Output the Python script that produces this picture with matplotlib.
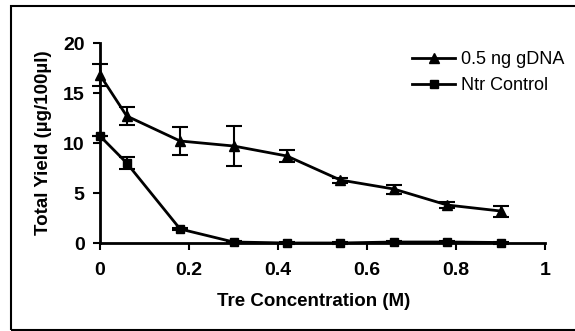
import matplotlib
matplotlib.use("Agg")
import matplotlib.pyplot as plt
from matplotlib.patches import Rectangle
from matplotlib.lines import Line2D

x = [0, 0.06, 0.18, 0.30, 0.42, 0.54, 0.66, 0.78, 0.90]
gdna = [16.8, 12.7, 10.2, 9.7, 8.7, 6.3, 5.4, 3.8, 3.2]
gdna_err = [1.1, 0.9, 1.4, 2.0, 0.6, 0.25, 0.45, 0.3, 0.55]
ntr = [10.7, 8.0, 1.4, 0.1, 0.0, 0.0, 0.1, 0.1, 0.05]
ntr_err = [0.0, 0.6, 0.1, 0.1, 0.1, 0.1, 0.1, 0.1, 0.1]
xticks = [0, 0.2, 0.4, 0.6, 0.8, 1]
xticklabels = ["0", "0.2", "0.4", "0.6", "0.8", "1"]
yticks = [0, 5, 10, 15, 20]
labels = ['0.5 ng gDNA', 'Ntr Control']

plt.rcParams['font.family'] = ['Liberation Sans', 'DejaVu Sans']

fig = plt.figure(figsize=(5.75, 3.31), dpi=100)
W, H = 575, 331
ax = fig.add_axes([100 / W, (H - 243) / H, 445 / W, 200 / H])

ax.errorbar(x, gdna, yerr=gdna_err, color='black', marker='^', markersize=7,
            linewidth=2, elinewidth=1.5, capsize=6, capthick=1.5,
            clip_on=False, zorder=3)
ax.errorbar(x, ntr, yerr=ntr_err, color='black', marker='s', markersize=6,
            linewidth=2, elinewidth=1.5, capsize=6, capthick=1.5,
            clip_on=False, zorder=3)

ax.set_xlim(0, 1)
ax.set_ylim(0, 20)
ax.set_xticks(xticks)
ax.set_xticklabels(xticklabels)
ax.set_yticks(yticks)
for s in ['top', 'right']:
    ax.spines[s].set_visible(False)
for s in ['left', 'bottom']:
    ax.spines[s].set_linewidth(2)
ax.tick_params(axis='both', direction='out', length=5, width=1.5,
               labelsize=14, pad=6)
ax.tick_params(axis='x', pad=9)
for lab in ax.get_xticklabels() + ax.get_yticklabels():
    lab.set_fontweight('bold')

ax.set_xlabel('Tre Concentration (M)', fontsize=13.5, fontweight='bold', labelpad=10)
ax.xaxis.set_label_coords(0.48, -0.25)
ax.set_ylabel('Total Yield (µg/100µl)', fontsize=13.5, fontweight='bold', labelpad=8)

handles = [Line2D([], [], color='black', marker='^', markersize=7, linewidth=2),
           Line2D([], [], color='black', marker='s', markersize=6, linewidth=2)]
fig.legend(handles, labels, loc='upper left',
           bbox_to_anchor=(412 / W, (H - 51) / H), frameon=False,
           fontsize=13, handlelength=2.4, handletextpad=0.3,
           labelspacing=0.5, borderpad=0, borderaxespad=0)

fig.patches.append(Rectangle((11 / W, 1.5 / H), 1.0, (H - 7.5) / H,
                             transform=fig.transFigure, fill=False,
                             edgecolor='black', linewidth=1.5))

fig.savefig('out.png', dpi=100)
